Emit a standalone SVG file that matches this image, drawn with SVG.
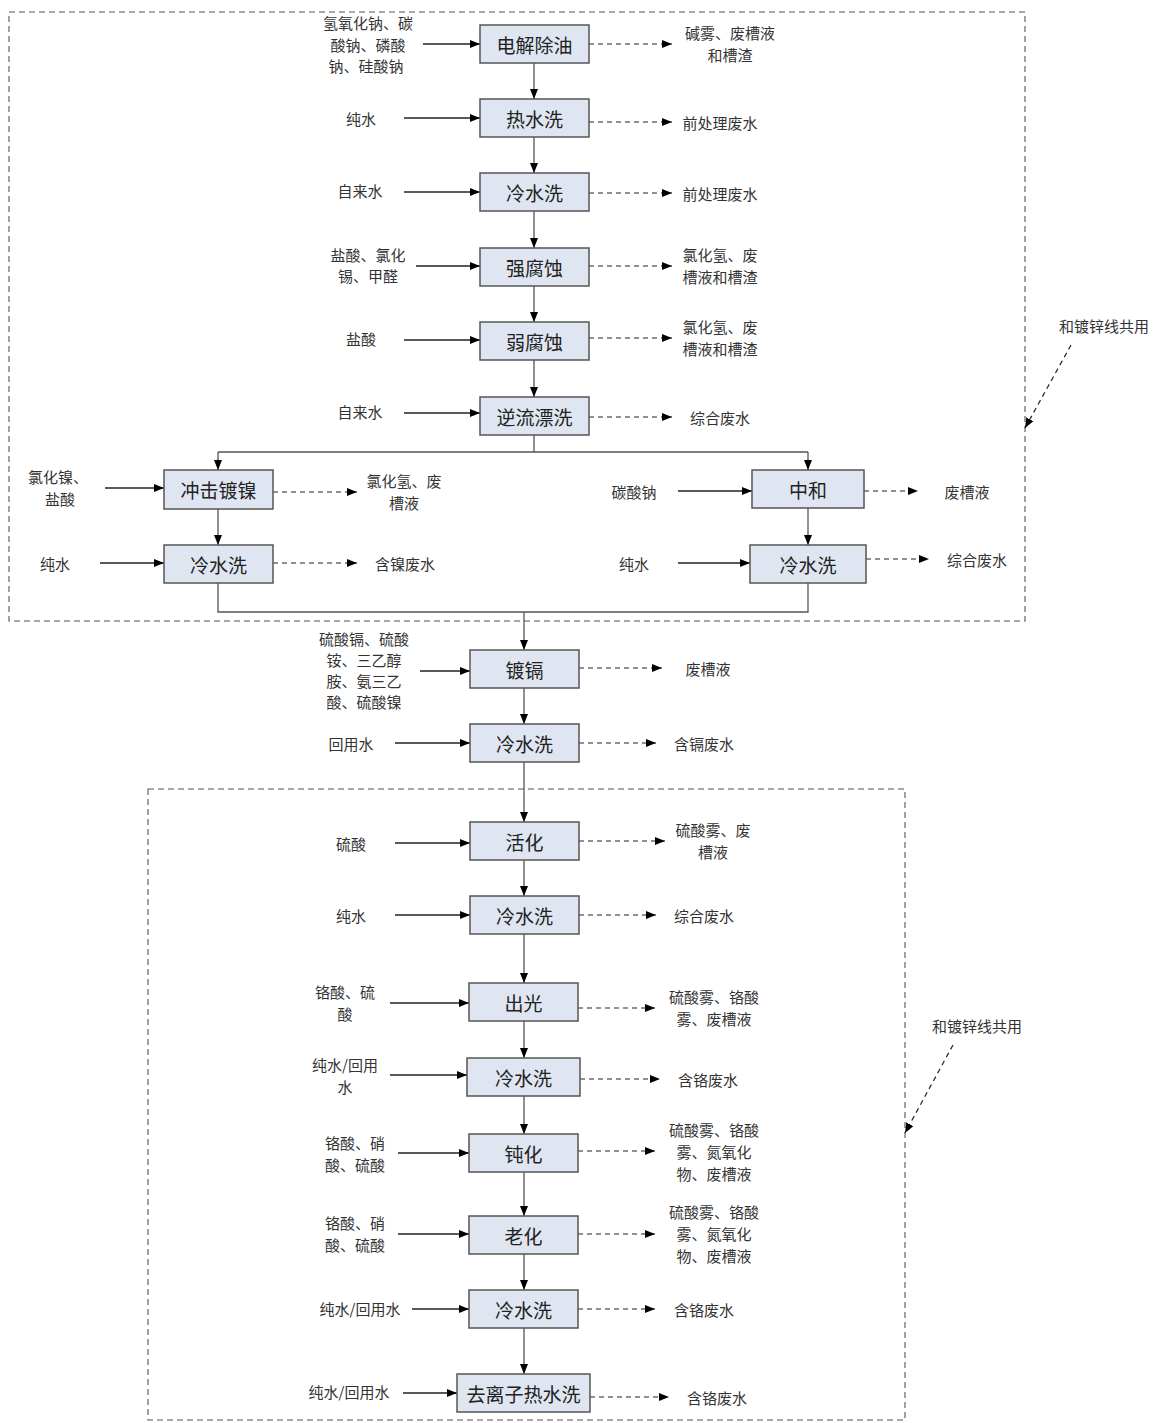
<svg xmlns="http://www.w3.org/2000/svg" width="1156" height="1423" viewBox="0 0 1156 1423">
<style>
.bx{fill:#dfe6f1;stroke:#555;stroke-width:1.5}
.bt{font-family:"Noto Sans CJK SC","Liberation Serif",serif;font-size:19px;fill:#222;text-anchor:middle;dominant-baseline:central}
.lt{font-family:"Noto Sans CJK SC","Liberation Serif",serif;font-size:15px;fill:#333;text-anchor:middle;dominant-baseline:central}
.fl{fill:none;stroke:#555;stroke-width:1.3}
.in{fill:none;stroke:#222;stroke-width:1.4}
.out{fill:none;stroke:#222;stroke-width:1.2;stroke-dasharray:5 4}
.grp{fill:none;stroke:#555;stroke-width:1.1;stroke-dasharray:6 4}
</style>
<defs>
<marker id="a" markerWidth="10" markerHeight="10" refX="10" refY="5" orient="auto" markerUnits="userSpaceOnUse"><path d="M0,1 L10,5 L0,9 z" fill="#000"/></marker>
</defs>
<rect width="1156" height="1423" fill="#fff"/>
<g id="groups">
<rect class="grp" x="9" y="12" width="1016" height="609"/>
<rect class="grp" x="148" y="789" width="757" height="631"/>
</g>
<g id="connectors">
<path class="fl" d="M534,63 V99" marker-end="url(#a)"/>
<path class="fl" d="M534,137 V173" marker-end="url(#a)"/>
<path class="fl" d="M534,211 V248" marker-end="url(#a)"/>
<path class="fl" d="M534,286 V322" marker-end="url(#a)"/>
<path class="fl" d="M534,360 V397" marker-end="url(#a)"/>
<path class="fl" d="M534,435 V452 M218,452 H808"/>
<path class="fl" d="M218,452 V470" marker-end="url(#a)"/>
<path class="fl" d="M808,452 V470" marker-end="url(#a)"/>
<path class="fl" d="M218,509 V545" marker-end="url(#a)"/>
<path class="fl" d="M808,508 V545" marker-end="url(#a)"/>
<path class="fl" d="M218,583 V612 H808 V583"/>
<path class="fl" d="M524,612 V650" marker-end="url(#a)"/>
<path class="fl" d="M524,688 V724" marker-end="url(#a)"/>
<path class="fl" d="M524,762 V822" marker-end="url(#a)"/>
<path class="fl" d="M524,860 V896" marker-end="url(#a)"/>
<path class="fl" d="M524,934 V983" marker-end="url(#a)"/>
<path class="fl" d="M524,1021 V1058" marker-end="url(#a)"/>
<path class="fl" d="M524,1096 V1134" marker-end="url(#a)"/>
<path class="fl" d="M524,1172 V1216" marker-end="url(#a)"/>
<path class="fl" d="M524,1254 V1290" marker-end="url(#a)"/>
<path class="fl" d="M524,1328 V1374" marker-end="url(#a)"/>
<path class="in" d="M423,44 H480" marker-end="url(#a)"/>
<path class="in" d="M404,118 H480" marker-end="url(#a)"/>
<path class="in" d="M404,192 H480" marker-end="url(#a)"/>
<path class="in" d="M416,266 H480" marker-end="url(#a)"/>
<path class="in" d="M404,340 H480" marker-end="url(#a)"/>
<path class="in" d="M404,413 H480" marker-end="url(#a)"/>
<path class="in" d="M105,488 H164" marker-end="url(#a)"/>
<path class="in" d="M100,563 H164" marker-end="url(#a)"/>
<path class="in" d="M678,491 H752" marker-end="url(#a)"/>
<path class="in" d="M678,563 H750" marker-end="url(#a)"/>
<path class="in" d="M420,671 H470" marker-end="url(#a)"/>
<path class="in" d="M395,743 H470" marker-end="url(#a)"/>
<path class="in" d="M395,843 H470" marker-end="url(#a)"/>
<path class="in" d="M395,915 H470" marker-end="url(#a)"/>
<path class="in" d="M390,1003 H469" marker-end="url(#a)"/>
<path class="in" d="M390,1075 H467" marker-end="url(#a)"/>
<path class="in" d="M398,1153 H469" marker-end="url(#a)"/>
<path class="in" d="M398,1234 H469" marker-end="url(#a)"/>
<path class="in" d="M412,1309 H469" marker-end="url(#a)"/>
<path class="in" d="M403,1393 H457" marker-end="url(#a)"/>
<path class="out" d="M589,44 H672" marker-end="url(#a)"/>
<path class="out" d="M589,122 H672" marker-end="url(#a)"/>
<path class="out" d="M589,193 H672" marker-end="url(#a)"/>
<path class="out" d="M589,266 H672" marker-end="url(#a)"/>
<path class="out" d="M589,338 H672" marker-end="url(#a)"/>
<path class="out" d="M589,417 H672" marker-end="url(#a)"/>
<path class="out" d="M273,492 H357" marker-end="url(#a)"/>
<path class="out" d="M273,563 H357" marker-end="url(#a)"/>
<path class="out" d="M864,491 H918" marker-end="url(#a)"/>
<path class="out" d="M866,559 H929" marker-end="url(#a)"/>
<path class="out" d="M579,668 H662" marker-end="url(#a)"/>
<path class="out" d="M579,743 H656" marker-end="url(#a)"/>
<path class="out" d="M579,841 H665" marker-end="url(#a)"/>
<path class="out" d="M579,915 H656" marker-end="url(#a)"/>
<path class="out" d="M578,1008 H655" marker-end="url(#a)"/>
<path class="out" d="M580,1079 H660" marker-end="url(#a)"/>
<path class="out" d="M578,1151 H655" marker-end="url(#a)"/>
<path class="out" d="M578,1234 H655" marker-end="url(#a)"/>
<path class="out" d="M578,1309 H655" marker-end="url(#a)"/>
<path class="out" d="M590,1397 H669" marker-end="url(#a)"/>
<path class="out" d="M1071,345 L1025,428" marker-end="url(#a)"/>
<path class="out" d="M953,1045 L905,1133" marker-end="url(#a)"/>
</g>
<g id="n1"><rect class="bx" x="480" y="25" width="109" height="38"/><text class="bt" x="534.5" y="44">电解除油</text></g>
<g id="n2"><rect class="bx" x="480" y="99" width="109" height="38"/><text class="bt" x="534.5" y="118">热水洗</text></g>
<g id="n3"><rect class="bx" x="480" y="173" width="109" height="38"/><text class="bt" x="534.5" y="192">冷水洗</text></g>
<g id="n4"><rect class="bx" x="480" y="248" width="109" height="38"/><text class="bt" x="534.5" y="267">强腐蚀</text></g>
<g id="n5"><rect class="bx" x="480" y="322" width="109" height="38"/><text class="bt" x="534.5" y="341">弱腐蚀</text></g>
<g id="n6"><rect class="bx" x="480" y="397" width="109" height="38"/><text class="bt" x="534.5" y="416">逆流漂洗</text></g>
<g id="n7"><rect class="bx" x="164" y="470" width="109" height="39"/><text class="bt" x="218.5" y="489">冲击镀镍</text></g>
<g id="n8"><rect class="bx" x="164" y="545" width="109" height="38"/><text class="bt" x="218.5" y="564">冷水洗</text></g>
<g id="n9"><rect class="bx" x="752" y="470" width="112" height="38"/><text class="bt" x="808" y="489">中和</text></g>
<g id="n10"><rect class="bx" x="750" y="545" width="116" height="38"/><text class="bt" x="808" y="564">冷水洗</text></g>
<g id="n11"><rect class="bx" x="470" y="650" width="109" height="38"/><text class="bt" x="524.5" y="669">镀镉</text></g>
<g id="n12"><rect class="bx" x="470" y="724" width="109" height="38"/><text class="bt" x="524.5" y="743">冷水洗</text></g>
<g id="n13"><rect class="bx" x="470" y="822" width="109" height="38"/><text class="bt" x="524.5" y="841">活化</text></g>
<g id="n14"><rect class="bx" x="470" y="896" width="109" height="38"/><text class="bt" x="524.5" y="915">冷水洗</text></g>
<g id="n15"><rect class="bx" x="469" y="983" width="109" height="38"/><text class="bt" x="523.5" y="1002">出光</text></g>
<g id="n16"><rect class="bx" x="467" y="1058" width="113" height="38"/><text class="bt" x="523.5" y="1077">冷水洗</text></g>
<g id="n17"><rect class="bx" x="469" y="1134" width="109" height="38"/><text class="bt" x="523.5" y="1153">钝化</text></g>
<g id="n18"><rect class="bx" x="469" y="1216" width="109" height="38"/><text class="bt" x="523.5" y="1235">老化</text></g>
<g id="n19"><rect class="bx" x="469" y="1290" width="109" height="38"/><text class="bt" x="523.5" y="1309">冷水洗</text></g>
<g id="n20"><rect class="bx" x="457" y="1374" width="133" height="38"/><text class="bt" x="523.5" y="1393">去离子热水洗</text></g>
<g id="inputs">
<text class="lt" x="368" y="22">氢氧化钠、碳</text><text class="lt" x="368" y="44">酸钠、磷酸</text><text class="lt" x="366" y="65">钠、硅酸钠</text>
<text class="lt" x="361" y="118">纯水</text>
<text class="lt" x="360" y="190">自来水</text>
<text class="lt" x="368" y="254">盐酸、氯化</text><text class="lt" x="368" y="275">锡、甲醛</text>
<text class="lt" x="361" y="338">盐酸</text>
<text class="lt" x="360" y="411">自来水</text>
<text class="lt" x="58" y="476">氯化镍、</text><text class="lt" x="60" y="498">盐酸</text>
<text class="lt" x="55" y="563">纯水</text>
<text class="lt" x="634" y="491">碳酸钠</text>
<text class="lt" x="634" y="563">纯水</text>
<text class="lt" x="364" y="638">硫酸镉、硫酸</text><text class="lt" x="364" y="659">铵、三乙醇</text><text class="lt" x="364" y="680">胺、氨三乙</text><text class="lt" x="364" y="701">酸、硫酸镍</text>
<text class="lt" x="351" y="743">回用水</text>
<text class="lt" x="351" y="843">硫酸</text>
<text class="lt" x="351" y="915">纯水</text>
<text class="lt" x="345" y="991">铬酸、硫</text><text class="lt" x="345" y="1013">酸</text>
<text class="lt" x="345" y="1064">纯水/回用</text><text class="lt" x="345" y="1086">水</text>
<text class="lt" x="355" y="1142">铬酸、硝</text><text class="lt" x="355" y="1164">酸、硫酸</text>
<text class="lt" x="355" y="1222">铬酸、硝</text><text class="lt" x="355" y="1244">酸、硫酸</text>
<text class="lt" x="360" y="1308">纯水/回用水</text>
<text class="lt" x="349" y="1391">纯水/回用水</text>
</g>
<g id="outputs">
<text class="lt" x="730" y="32">碱雾、废槽液</text><text class="lt" x="730" y="54">和槽渣</text>
<text class="lt" x="720" y="122">前处理废水</text>
<text class="lt" x="720" y="193">前处理废水</text>
<text class="lt" x="720" y="254">氯化氢、废</text><text class="lt" x="720" y="276">槽液和槽渣</text>
<text class="lt" x="720" y="326">氯化氢、废</text><text class="lt" x="720" y="348">槽液和槽渣</text>
<text class="lt" x="720" y="417">综合废水</text>
<text class="lt" x="404" y="480">氯化氢、废</text><text class="lt" x="404" y="502">槽液</text>
<text class="lt" x="405" y="563">含镍废水</text>
<text class="lt" x="967" y="491">废槽液</text>
<text class="lt" x="977" y="559">综合废水</text>
<text class="lt" x="708" y="668">废槽液</text>
<text class="lt" x="704" y="743">含镉废水</text>
<text class="lt" x="713" y="829">硫酸雾、废</text><text class="lt" x="713" y="851">槽液</text>
<text class="lt" x="704" y="915">综合废水</text>
<text class="lt" x="714" y="996">硫酸雾、铬酸</text><text class="lt" x="714" y="1018">雾、废槽液</text>
<text class="lt" x="708" y="1079">含铬废水</text>
<text class="lt" x="714" y="1129">硫酸雾、铬酸</text><text class="lt" x="714" y="1151">雾、氮氧化</text><text class="lt" x="714" y="1173">物、废槽液</text>
<text class="lt" x="714" y="1211">硫酸雾、铬酸</text><text class="lt" x="714" y="1233">雾、氮氧化</text><text class="lt" x="714" y="1255">物、废槽液</text>
<text class="lt" x="704" y="1309">含铬废水</text>
<text class="lt" x="717" y="1397">含铬废水</text>
</g>
<g id="notes">
<text class="lt" x="1104" y="325">和镀锌线共用</text>
<text class="lt" x="977" y="1025">和镀锌线共用</text>
</g>
</svg>
